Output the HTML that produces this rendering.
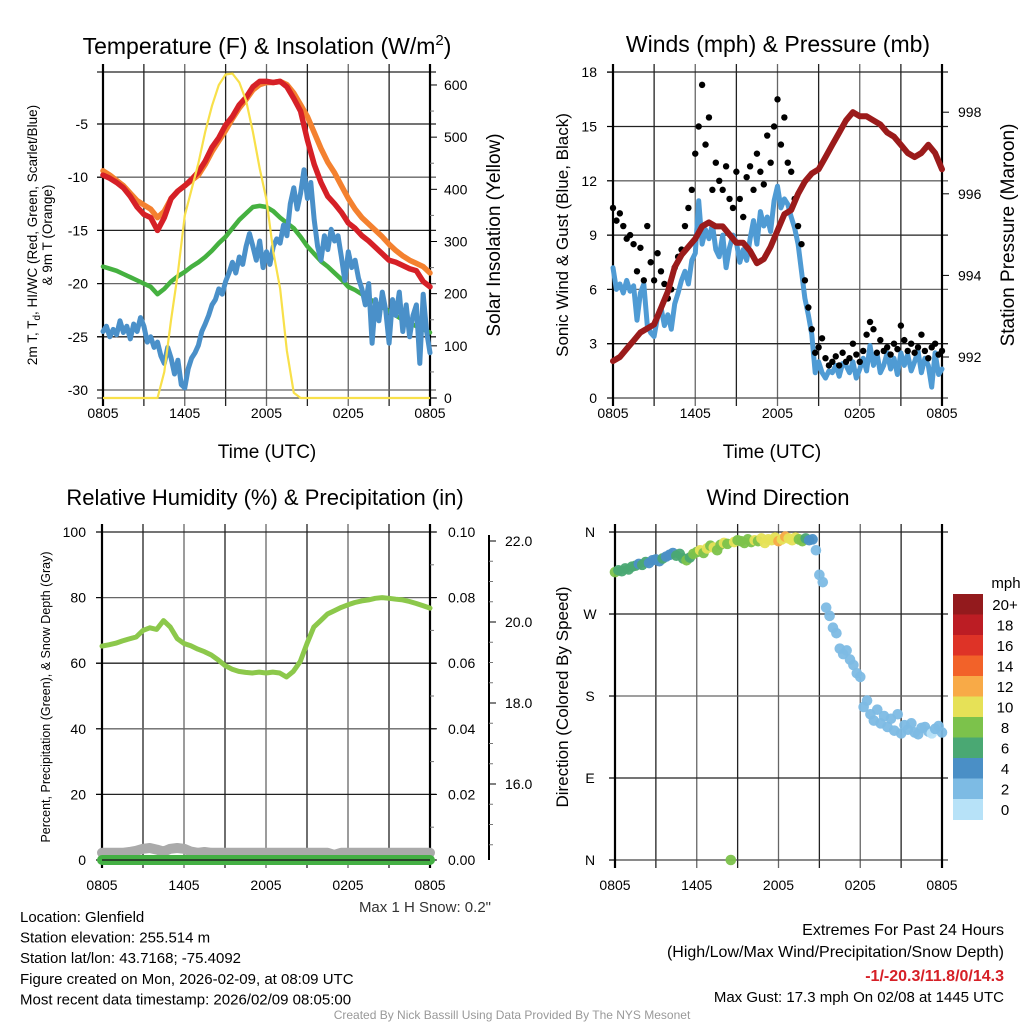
<!DOCTYPE html>
<html><head><meta charset="utf-8"><style>
html,body{margin:0;padding:0;background:#fff;}
svg{display:block;font-family:"Liberation Sans",Arial,sans-serif;}
</style></head><body>
<svg id="chart" width="1024" height="1024" viewBox="0 0 1024 1024"></svg>
<script>
// ---------- DATA ----------
const xTickLabels = ["0805","1405","2005","0205","0805"];
// Panel 1 (half-hourly, 49 pts)
const tempRed = [-9.8,-10.1,-10.5,-11.0,-11.8,-12.8,-13.5,-13.8,-15.0,-13.8,-12.0,-11.3,-10.8,-10.2,-9.5,-8.5,-7.2,-6.3,-5.1,-4.3,-3.2,-2.5,-1.5,-1.0,-1.0,-1.1,-1.0,-1.5,-2.6,-3.8,-6.5,-8.8,-10.5,-11.8,-12.5,-13.3,-14.3,-14.8,-15.5,-16.0,-16.6,-17.2,-17.8,-18.0,-18.3,-18.6,-18.8,-19.8,-20.3];
const temp9m = [-9.4,-9.8,-10.3,-10.8,-11.5,-12.2,-12.6,-13.0,-13.8,-13.2,-12.0,-11.3,-10.8,-10.3,-9.8,-8.8,-7.6,-6.6,-5.6,-4.5,-3.5,-2.7,-1.8,-1.3,-1.1,-1.1,-1.0,-1.3,-2.1,-3.2,-4.3,-5.8,-7.3,-8.6,-9.6,-10.8,-12.0,-13.0,-13.8,-14.4,-15.0,-15.6,-16.3,-16.9,-17.4,-17.8,-18.1,-18.4,-19.0];
const windChill = [-18.4,-18.6,-18.8,-19.1,-19.4,-19.7,-20.0,-20.3,-21.0,-20.5,-19.8,-19.3,-18.9,-18.4,-18.0,-17.5,-16.9,-16.2,-15.6,-14.8,-14.0,-13.4,-12.8,-12.7,-12.8,-13.2,-13.8,-14.3,-14.8,-15.6,-16.5,-17.2,-17.9,-18.4,-19.0,-19.6,-20.3,-20.6,-21.0,-21.4,-21.8,-22.2,-22.6,-23.0,-23.4,-23.7,-24.0,-24.3,-24.6];
const insolation = [0,0,0,0,0,0,0,0,0,50,150,240,350,400,450,510,560,600,620,622,605,570,510,440,380,280,210,90,10,0,0,0,0,0,0,0,0,0,0,0,0,0,0,0,0,0,0,0,0];
// Panel 1 dewpoint (15-min, 97 pts)
const dewpoint = [-24.5,-24.0,-25.0,-24.3,-24.8,-23.5,-24.6,-24.0,-25.2,-23.8,-24.5,-23.2,-24.0,-25.5,-25.0,-26.0,-25.5,-26.8,-27.5,-26.0,-27.0,-28.5,-27.2,-29.5,-29.8,-28.0,-27.0,-26.5,-25.8,-24.5,-23.8,-23.0,-22.0,-21.5,-20.5,-21.0,-19.8,-19.0,-18.0,-19.0,-17.5,-18.2,-16.5,-15.3,-16.5,-17.8,-16.0,-18.5,-17.0,-18.2,-16.5,-15.8,-16.2,-14.5,-15.5,-12.5,-11.0,-13.0,-11.5,-9.3,-12.0,-10.5,-14.0,-16.5,-17.8,-15.5,-16.8,-14.9,-16.0,-15.5,-17.5,-19.7,-17.0,-18.5,-17.8,-19.5,-20.5,-22.0,-20.0,-25.6,-21.5,-23.5,-20.8,-22.5,-25.6,-21.5,-23.0,-20.8,-24.5,-22.0,-25.0,-23.0,-22.0,-27.5,-21.0,-24.5,-26.5];
// Panel 2 (15-min, 97 pts)
const windSpeed = [7.2,6.0,6.3,5.8,6.5,5.9,6.2,4.3,5.8,6.3,4.0,3.6,3.4,4.5,5.0,4.0,4.6,3.8,5.2,5.8,6.5,7.0,6.3,7.6,8.0,10.9,8.5,9.3,8.8,9.6,8.2,7.8,9.0,7.2,8.3,9.0,8.6,7.5,8.2,7.6,8.8,9.8,8.5,10.3,9.5,10.0,9.2,10.9,11.7,10.5,11.0,10.7,10.0,9.4,8.5,7.0,5.5,4.6,3.5,1.4,2.0,1.4,1.1,1.5,1.4,1.8,1.2,1.9,1.8,1.4,2.0,1.1,1.6,2.2,1.5,2.9,1.8,2.5,1.4,1.8,2.5,1.6,2.2,1.3,2.5,1.8,2.4,1.5,2.0,2.6,1.4,2.2,1.8,0.6,2.5,1.3,1.6];
const windGust = [10.5,9.8,10.2,9.5,8.8,9.0,8.5,7.0,8.3,6.5,9.5,7.5,6.5,8.0,7.0,6.3,5.5,6.0,7.2,7.8,8.2,9.5,10.5,11.5,13.5,15.0,17.3,14.0,15.5,11.5,13.0,12.0,11.5,12.8,11.0,10.5,12.5,11.0,10.0,12.2,12.8,11.5,13.5,12.5,11.8,14.5,13.0,15.0,16.5,14.0,15.5,13.0,12.5,11.0,9.5,8.5,6.5,5.0,3.8,2.5,2.8,3.3,2.2,1.8,2.0,2.3,1.8,2.5,2.0,2.2,3.0,2.4,2.0,2.6,3.5,4.2,3.8,2.5,3.2,2.6,2.8,2.4,3.0,2.7,4.0,3.2,2.6,3.0,2.5,2.8,3.5,2.6,2.2,2.8,3.0,2.4,2.6];
const pressure = [991.9,992.0,992.2,992.4,992.6,992.7,992.8,993.2,993.6,994.2,994.5,994.7,994.9,995.2,995.3,995.2,995.2,995.0,994.8,994.8,994.6,994.3,994.4,994.7,995.1,995.5,995.6,996.0,996.3,996.5,996.6,996.9,997.2,997.5,997.8,998.0,997.9,997.9,997.8,997.7,997.5,997.4,997.2,997.0,996.9,997.0,997.2,997.0,996.6];
// Panel 3 (half-hourly)
const relHum = [65.2,65.6,66.1,66.8,67.4,68.0,70.0,70.8,70.3,73.0,71.0,67.5,66.0,65.3,64.3,63.5,62.5,61.0,59.3,58.2,57.5,57.2,57.0,57.3,57.0,57.3,57.0,55.8,57.5,60.5,66.0,71.0,73.0,75.0,76.0,77.0,77.8,78.5,79.0,79.3,79.8,80.0,79.8,79.5,79.3,78.8,78.2,77.5,76.8];
const precip = [0,0,0,0,0,0,0,0,0,0,0,0,0,0,0,0,0,0,0,0,0,0,0,0,0,0,0,0,0,0,0,0,0,0,0,0,0,0,0,0,0,0,0,0,0,0,0,0,0];
const snowDepth = [14.3,14.3,14.3,14.3,14.32,14.35,14.4,14.42,14.38,14.33,14.4,14.42,14.4,14.33,14.3,14.32,14.3,14.3,14.3,14.3,14.3,14.3,14.3,14.3,14.3,14.3,14.3,14.3,14.3,14.3,14.3,14.3,14.3,14.3,14.25,14.3,14.3,14.3,14.3,14.3,14.3,14.3,14.3,14.3,14.3,14.3,14.3,14.3,14.3];
// Panel 4 (15-min)
const windDir = [316,318,317,320,319,322,323,325,324,327,326,329,330,328,331,333,335,337,334,336,331,329,332,336,338,340,337,342,345,343,340,346,348,347,0,349,351,350,348,352,349,351,350,353,348,352,351,354,350,352,355,353,351,354,352,350,353,351,352,340,313,305,277,268,255,249,232,226,230,220,214,205,201,168,175,160,153,165,150,158,146,155,142,160,139,148,143,150,140,138,145,146,141,139,144,147,140];
const speedBinLabels = ["20+","18","16","14","12","10","8","6","4","2","0"];
const speedBinColors = ["#931a1d","#bc1d24","#de3327","#f26229","#f8aa47","#e6e157","#7cc24b","#4aa873","#4a8fc6","#7dbbe4","#b7e2f8"];

// ---------- HELPERS ----------
const NS="http://www.w3.org/2000/svg";
const svg=document.getElementById('chart');
function el(tag,attrs,parent){const e=document.createElementNS(NS,tag);for(const k in attrs)e.setAttribute(k,attrs[k]);(parent||svg).appendChild(e);return e;}
function txt(x,y,s,size,anchor,extra,parent){const e=el('text',Object.assign({x:x,y:y,'font-size':size,'text-anchor':anchor||'middle',fill:'#000'},extra||{}),parent);e.textContent=s;return e;}
function pathFrom(arr,xf,yf){return arr.map((v,i)=>(i?'L':'M')+xf(i).toFixed(1)+','+yf(v).toFixed(1)).join('');}

function frame(name,x0,x1,y0,y1,hLines,labOff){
  const g=el('g',{});
  
  
  for(let k=1;k<8;k++){const x=x0+(x1-x0)*k/8;
    const l=el('line',{x1:x,x2:x,y1:y0-8,y2:y1+8,stroke:k%2?'#222':'#666','stroke-width':1.3},g);
    }
  hLines.forEach((y,k)=>{const l=el('line',{x1:x0-6,x2:x1+6,y1:y,y2:y,stroke:k%2?'#666':'#222','stroke-width':1.3},g);
    });
  el('line',{x1:x0-6,x2:x1+6,y1:y0,y2:y0,stroke:'#222','stroke-width':1.3},g);
  el('line',{x1:x0-6,x2:x1+6,y1:y1,y2:y1,stroke:'#444','stroke-width':1.3},g);
  el('line',{x1:x0,x2:x0,y1:y0-8,y2:y1+8,stroke:'#000','stroke-width':2.2},g);
  el('line',{x1:x1,x2:x1,y1:y0-8,y2:y1+8,stroke:'#000','stroke-width':2.2},g);
  xTickLabels.forEach((s,k)=>{const t=txt(x0+(x1-x0)*k/4,y1+labOff,s,14);
    });
}
function rot(x,y,s,size,name,extra){const t=txt(0,0,s,size,'middle',Object.assign({transform:`translate(${x},${y}) rotate(-90)`},extra||{}));
  return t;}

// ---------- PANEL 1 ----------
(function(){
const x0=103,x1=430,y0=72,y1=398;
const xh=i=>x0+(x1-x0)*i/48, xq=i=>x0+(x1-x0)*i/96;
const yT=t=>124+(-5-t)*10.64, yS=s=>398-s*0.5217;
frame('temp-panel',x0,x1,y0,y1,[-5,-10,-15,-20,-25,-30].map(yT),20);
[-5,-10,-15,-20,-25,-30].forEach(v=>{el('line',{x1:x0-6,x2:x0,y1:yT(v),y2:yT(v),stroke:'#000'});
  const t=txt(88,yT(v)+5,String(v),14,'end');});
[0,100,200,300,400,500,600].forEach(v=>{el('line',{x1:x1,x2:x1+7,y1:yS(v),y2:yS(v),stroke:'#000'});
  const t=txt(444,yS(v)+5,String(v),14,'start');});
for(let v=50;v<=600;v+=100){el('line',{x1:x1,x2:x1+4,y1:yS(v),y2:yS(v),stroke:'#777'});}
const series=[[windChill,'#45b140',4.5,xh,'wind-chill-line'],[dewpoint,'#4a90c9',5,xq,'dewpoint-line'],[temp9m,'#f4812f',5.5,xh,'temp-9m-line'],[tempRed,'#d62027',5.5,xh,'temp-2m-line']];
series.forEach(([a,c,w,xf,n])=>{const p=el('path',{d:pathFrom(a,xf,yT),fill:'none',stroke:c,'stroke-width':w,'stroke-linejoin':'round','stroke-linecap':'round'});
  });
const ins=el('path',{d:pathFrom(insolation,xh,yS),fill:'none',stroke:'#f8e04a','stroke-width':2.2,'stroke-linejoin':'round'});

const ti=txt(267,54,'Temperature (F) & Insolation (W/m',23);
const sup=el('tspan',{dy:-9,'font-size':15},ti);sup.textContent='2';const cl=el('tspan',{dy:9},ti);cl.textContent=')';
const xt=txt(267,458,'Time (UTC)',19);
const l1=rot(37,235,'',13.5,'temp-y-axis-title');
const a=el('tspan',{},l1);a.textContent='2m T, T';const b=el('tspan',{dy:3,'font-size':10},l1);b.textContent='d';const c=el('tspan',{dy:-3},l1);c.textContent=', HI/WC (Red, Green, Scarlet/Blue)';
rot(52,235,'& 9m T (Orange)',13.5,'temp-y-axis-title-line2');
rot(500,235,'Solar Insolation (Yellow)',19,'insolation-axis-title');
})();

// ---------- PANEL 2 ----------
(function(){
const x0=613,x1=942,y0=72,y1=398;
const xh=i=>x0+(x1-x0)*i/48, xq=i=>x0+(x1-x0)*i/96;
const yW=v=>398-v*18.1, yP=p=>357-(p-992)*40.8;
frame('wind-panel',x0,x1,y0,y1,[3,6,9,12,15].map(yW),20);
[0,3,6,9,12,15,18].forEach(v=>{el('line',{x1:x0-6,x2:x0,y1:yW(v),y2:yW(v),stroke:'#000'});
  const t=txt(597,yW(v)+5,String(v),14,'end');});
[992,994,996,998].forEach(v=>{el('line',{x1:x1,x2:x1+7,y1:yP(v),y2:yP(v),stroke:'#000'});
  const t=txt(958,yP(v)+5,String(v),14,'start');});
const w=el('path',{d:pathFrom(windSpeed,xq,yW),fill:'none',stroke:'#4f9bd4','stroke-width':5,'stroke-linejoin':'round','stroke-linecap':'round'});

const gg=el('g',{});
windGust.forEach((v,i)=>{const d=el('circle',{cx:xq(i),cy:yW(v),r:3.2,fill:'#000'},gg);
  });
const p=el('path',{d:pathFrom(pressure,xh,yP),fill:'none',stroke:'#9b1b1b','stroke-width':6,'stroke-linejoin':'round','stroke-linecap':'round'});

const ti=txt(778,52,'Winds (mph) & Pressure (mb)',23);
const xt=txt(772,458,'Time (UTC)',19);
rot(568,235,'Sonic Wind & Gust (Blue, Black)',17,'wind-y-axis-title');
rot(1014,235,'Station Pressure (Maroon)',19,'pressure-axis-title');
})();

// ---------- PANEL 3 ----------
(function(){
const x0=102,x1=430,y0=532,y1=860;
const xh=i=>x0+(x1-x0)*i/48;
const yR=r=>860-r*3.28, yPr=v=>860-v*3280, ySn=s=>541+(22-s)*40.5;
frame('rh-panel',x0,x1,y0,y1,[20,40,60,80].map(yR),30);
[0,20,40,60,80,100].forEach(v=>{el('line',{x1:x0-6,x2:x0,y1:yR(v),y2:yR(v),stroke:'#000'});
  const t=txt(86,yR(v)+5,String(v),14,'end');});
[0,0.02,0.04,0.06,0.08,0.10].forEach(v=>{el('line',{x1:x1,x2:x1+7,y1:yPr(v),y2:yPr(v),stroke:'#000'});
  const t=txt(448,yPr(v)+5,v.toFixed(2),14,'start');});
for(let v=0.01;v<0.1;v+=0.02){el('line',{x1:x1,x2:x1+4,y1:yPr(v),y2:yPr(v),stroke:'#777'});}
const sa=el('line',{x1:489,x2:489,y1:y0+3,y2:y1,stroke:'#000','stroke-width':2});
[16,18,20,22].forEach(v=>{el('line',{x1:489,x2:496,y1:ySn(v),y2:ySn(v),stroke:'#000'});
  const t=txt(505,ySn(v)+5,v.toFixed(1),14,'start');});
for(let v=14.5;v<22;v+=0.5){if(v%2)el('line',{x1:489,x2:493,y1:ySn(v),y2:ySn(v),stroke:'#777'});}
const s=el('path',{d:pathFrom(snowDepth,xh,ySn),fill:'none',stroke:'#aaa','stroke-width':10,'stroke-linecap':'round','stroke-linejoin':'round'});

const pr=el('path',{d:pathFrom(precip,xh,yPr),fill:'none',stroke:'#44b044','stroke-width':10,'stroke-linecap':'round'});

el('line',{x1:x0,x2:x1,y1:y1,y2:y1,stroke:'#222','stroke-width':1.5});
const r=el('path',{d:pathFrom(relHum,xh,yR),fill:'none',stroke:'#8cc84b','stroke-width':5,'stroke-linejoin':'round','stroke-linecap':'round'});

const ti=txt(265,505,'Relative Humidity (%) & Precipitation (in)',22);
rot(50,697,'Percent, Precipitation (Green), & Snow Depth (Gray)',12.5,'rh-y-axis-title');
const ms=txt(491,912,'Max 1 H Snow: 0.2"',15,'end',{fill:'#333'});
})();

// ---------- PANEL 4 ----------
(function(){
const x0=615,x1=942,y0=532,y1=860;
const xq=i=>x0+(x1-x0)*i/96;
const yD=d=>860-d*0.911;
frame('direction-panel',x0,x1,y0,y1,[90,180,270].map(yD),30);
[['N',360],['W',270],['S',180],['E',90],['N',0]].forEach(([s,v])=>{el('line',{x1:x0-6,x2:x0,y1:yD(v),y2:yD(v),stroke:'#000'});
  const t=txt(590,yD(v)+5,s,14);});
const g=el('g',{});
windDir.forEach((d,i)=>{const v=windSpeed[i];const bin=Math.min(10,Math.round(v/2));const col=speedBinColors[10-bin];
  const c=el('circle',{cx:xq(i),cy:yD(d),r:5.3,fill:col,'fill-opacity':0.95},g);
  });
const ti=txt(778,505,'Wind Direction',22);
rot(568,697,'Direction (Colored By Speed)',17,'direction-y-axis-title');
const cb=el('g',{});
speedBinColors.forEach((c,k)=>{const r=el('rect',{x:953,y:594+k*20.5,width:30,height:21,fill:c},cb);
  
  const t=txt(1005,594+k*20.5+16,speedBinLabels[k],15,'middle',{},cb);});
const u=txt(1006,588,'mph',15);
})();

// ---------- FOOTER ----------
["Location: Glenfield","Station elevation: 255.514 m","Station lat/lon: 43.7168; -75.4092","Figure created on Mon, 2026-02-09, at 08:09 UTC","Most recent data timestamp: 2026/02/09 08:05:00"].forEach((s,k)=>{
  const t=txt(20,922+k*20.6,s,15,'start');});
const e1=txt(1004,935,'Extremes For Past 24 Hours',16,'end');
const e2=txt(1004,957,'(High/Low/Max Wind/Precipitation/Snow Depth)',16,'end');
const e3=txt(1004,981,'-1/-20.3/11.8/0/14.3',16,'end',{fill:'#d62027','font-weight':'bold'});
const e4=txt(1004,1002,'Max Gust: 17.3 mph On 02/08 at 1445 UTC',15,'end');
const cr=txt(512,1019,'Created By Nick Bassill Using Data Provided By The NYS Mesonet',12,'middle',{fill:'#999'});
</script>
</body></html>
